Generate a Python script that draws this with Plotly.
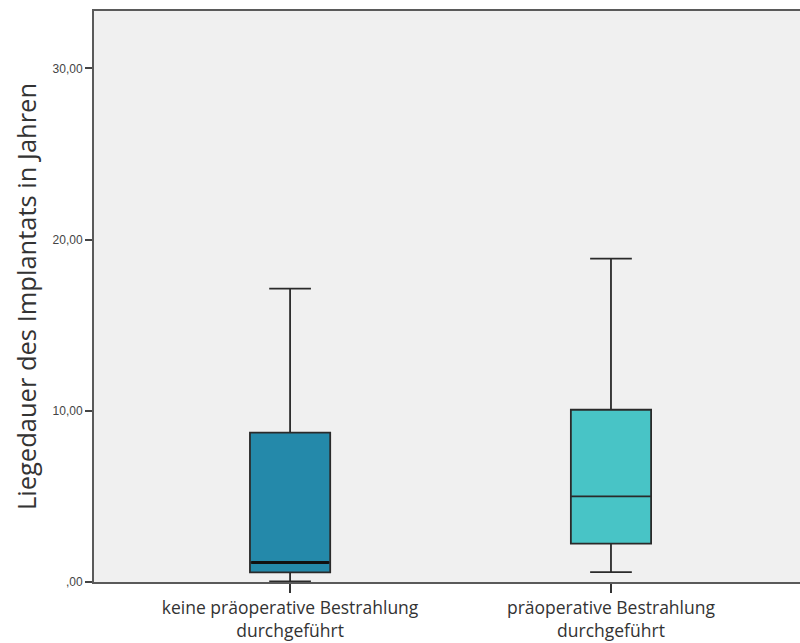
import plotly.graph_objects as go

categories = ["keine präoperative Bestrahlung<br>durchgeführt", "präoperative Bestrahlung<br>durchgeführt"]
x_pos = [0, 1]
lower_whisker = [0.03, 0.58]
q1_vals = [0.56, 2.24]
median_vals = [1.14, 5.0]
q3_vals = [8.73, 10.06]
upper_whisker = [17.14, 18.89]
fill_colors = ["#2489AA", "#48C4C6"]
ytick_vals = [0, 10, 20, 30]
ytick_text = [",00", "10,00", "20,00", "30,00"]

BOX_W = 0.25
fig = go.Figure()
for i in range(len(x_pos)):
    fig.add_trace(go.Box(
        x=[x_pos[i]], q1=[q1_vals[i]], median=[median_vals[i]], q3=[q3_vals[i]],
        lowerfence=[lower_whisker[i]], upperfence=[upper_whisker[i]],
        width=BOX_W, whiskerwidth=0.52, fillcolor=fill_colors[i],
        line=dict(color="#2a2a2a", width=1.8), boxpoints=False,
        showlegend=False, hoverinfo="skip",
    ))
# thicker median line for the first group
fig.add_trace(go.Scatter(
    x=[x_pos[0] - BOX_W / 2 + 0.004, x_pos[0] + BOX_W / 2 - 0.004],
    y=[median_vals[0], median_vals[0]], mode="lines",
    line=dict(color="#111111", width=3.2), showlegend=False, hoverinfo="skip"))

fig.update_layout(
    width=800, height=643,
    margin=dict(l=94, r=0, t=11, b=61),
    paper_bgcolor="white", plot_bgcolor="#f0f0f0",
    font=dict(family="Open Sans, Noto Sans, sans-serif", color="#333333"),
)
fig.update_xaxes(
    range=[-0.611, 1.589], tickvals=x_pos, ticktext=categories, automargin=False,
    showgrid=False, zeroline=False, showline=True, linecolor="#5a5a5a", linewidth=2,
    mirror=True, ticks="outside", ticklen=9, tickwidth=1.5, tickcolor="#333333",
    tickfont=dict(size=17.5, color="#333333", family="Open Sans, sans-serif"),
)
fig.update_yaxes(
    range=[0, 33.35], tickvals=ytick_vals, ticktext=ytick_text, automargin=False,
    showgrid=False, zeroline=False, showline=True, linecolor="#5a5a5a", linewidth=2,
    ticks="outside", ticklen=7, tickwidth=1.5, tickcolor="#444444",
    tickfont=dict(size=12, color="#444444", family="Liberation Sans, Arial, sans-serif"),
    title=dict(text="Liegedauer des Implantats in Jahren", standoff=9,
               font=dict(size=25.5, color="#333333", family="Open Sans, sans-serif")),
)
fig.write_html("out.html", config={"displayModeBar": False},
               post_script="document.body.style.margin='0';")
